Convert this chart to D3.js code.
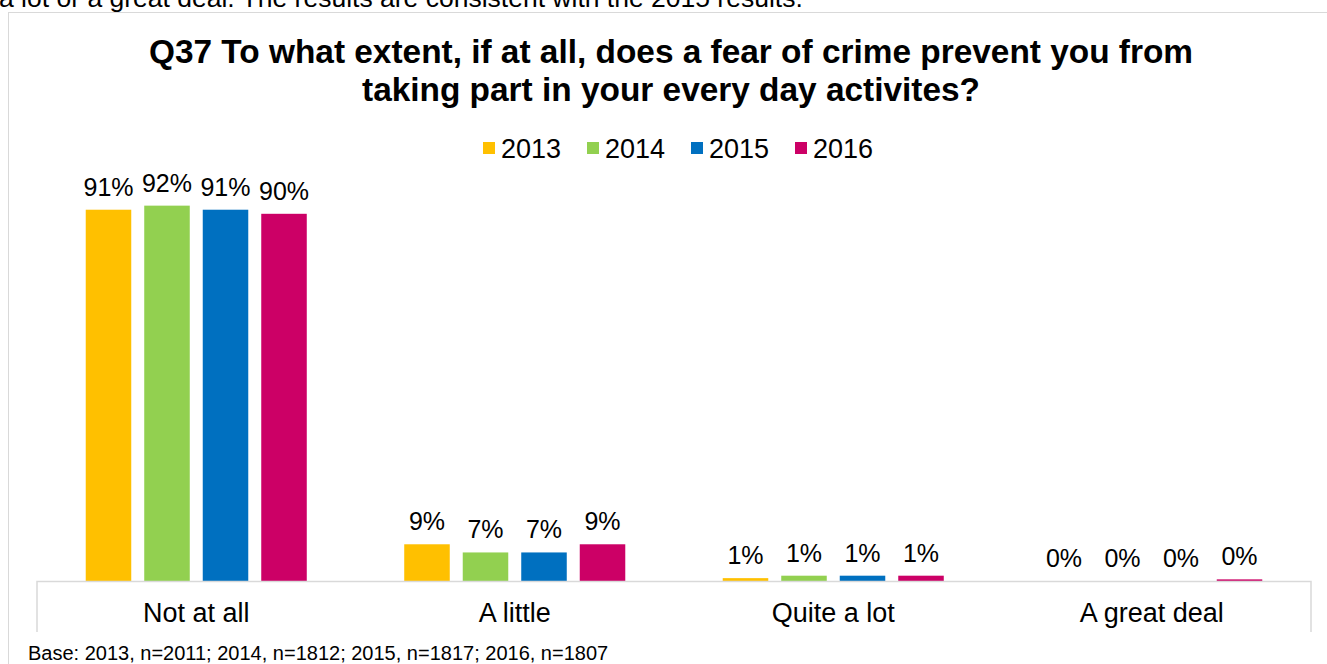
<!DOCTYPE html>
<html>
<head>
<meta charset="utf-8">
<script src="https://cdn.jsdelivr.net/npm/d3@7"></script>
<style>
  html, body { margin: 0; padding: 0; background: #fff; }
  svg { display: block; font-family: "Liberation Sans", Arial, sans-serif; }
</style>
</head>
<body>
<svg id="chart" width="1327" height="664"></svg>
<script>
// ---- data ----
const categories = ["Not at all", "A little", "Quite a lot", "A great deal"];
const years = ["2013", "2014", "2015", "2016"];
const values2013 = [91, 9, 0.7, 0];
const values2014 = [92, 7, 1.3, 0];
const values2015 = [91, 7, 1.3, 0];
const values2016 = [90, 9, 1.3, 0.4];
const yearColors = ["#FFC000", "#92D050", "#0070C0", "#CC0066"];
const titleLines = ["Q37 To what extent, if at all, does a fear of crime prevent you from",
                    "taking part in your every day activites?"];
const introText = "a lot or a great deal. The results are consistent with the 2015 results.";
const footnote = "Base: 2013, n=2011; 2014, n=1812; 2015, n=1817; 2016, n=1807";

const series = [values2013, values2014, values2015, values2016];

const svg = d3.select("#chart");

// preceding paragraph text (cut off at the top, as in the source page)
svg.append("text").attr("x", -1).attr("y", 7)
  .attr("font-size", 26.5).attr("fill", "#000").text(introText);

// chart frame
svg.append("rect").attr("x", 8.5).attr("y", 12.5).attr("width", 1340).attr("height", 700)
  .attr("fill", "#fff").attr("stroke", "#d9d9d9").attr("stroke-width", 1);

// title
svg.append("text").attr("text-anchor", "middle").attr("font-weight", "bold")
  .attr("font-size", 33.4).attr("fill", "#000")
  .selectAll("tspan").data(titleLines).join("tspan")
  .attr("x", 671).attr("y", (d, i) => 63 + i * 38).text(d => d);

// scales
const x0 = d3.scaleBand().domain(categories).range([37, 1311])
  .paddingInner(0.306).paddingOuter(0.153);
const x1 = d3.scaleBand().domain(years).range([0, x0.bandwidth()])
  .paddingInner(0.222).paddingOuter(0);
const y = d3.scaleLinear().domain([0, 100]).range([581, 173]);
const color = d3.scaleOrdinal().domain(years).range(yearColors);
const fmt = v => d3.format(".0f")(v) + "%";

// legend
const legend = svg.append("g");
const legItems = legend.selectAll("g").data(years).join("g")
  .attr("transform", (d, i) => `translate(${483 + i * 104},0)`);
legItems.append("rect").attr("x", 0).attr("y", 142).attr("width", 12).attr("height", 12)
  .attr("fill", d => color(d));
legItems.append("text").attr("x", 18).attr("y", 158).attr("font-size", 27)
  .attr("fill", "#000").text(d => d);

// bars
const rows = categories.map((c, ci) => ({
  cat: c,
  vals: years.map((yr, yi) => ({ year: yr, value: series[yi][ci] }))
}));

const groups = svg.append("g").selectAll("g").data(rows).join("g")
  .attr("transform", d => `translate(${x0(d.cat)},0)`);

groups.selectAll("rect").data(d => d.vals).join("rect")
  .attr("x", d => x1(d.year))
  .attr("width", x1.bandwidth())
  .attr("y", d => y(d.value))
  .attr("height", d => y(0) - y(d.value))
  .attr("fill", d => color(d.year));

groups.selectAll("text").data(d => d.vals).join("text")
  .attr("x", d => x1(d.year) + x1.bandwidth() / 2)
  .attr("y", d => y(d.value) - 14)
  .attr("text-anchor", "middle").attr("font-size", 25).attr("fill", "#000")
  .text(d => fmt(d.value));

// axis
const axis = svg.append("g").attr("transform", "translate(0,581)")
  .call(d3.axisBottom(x0).tickSize(0).tickPadding(0));
axis.select(".domain").remove();
axis.selectAll("text").attr("font-size", 27).attr("fill", "#000")
  .attr("font-family", "Liberation Sans, Arial, sans-serif").attr("dy", null).attr("y", 41);
svg.append("path")
  .attr("d", `M${x0.range()[0]},632V581.5H${x0.range()[1]}V632`)
  .attr("fill", "none").attr("stroke", "#d9d9d9").attr("stroke-width", 1.5);

// footnote
svg.append("text").attr("x", 28).attr("y", 660).attr("font-size", 20).attr("fill", "#000")
  .text(footnote);
</script>
</body>
</html>
